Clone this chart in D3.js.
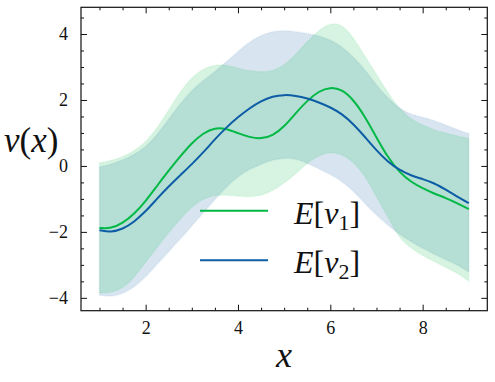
<!DOCTYPE html>
<html>
<head>
<meta charset="utf-8">
<script src="https://cdn.jsdelivr.net/npm/d3@7"></script>
<style>
  html, body { margin: 0; padding: 0; background: #fff; }
  svg { display: block; }
  svg text { font-family: "Liberation Serif", "DejaVu Serif", serif; }
</style>
</head>
<body>
<svg id="chart" width="495" height="382"></svg>
<script>
// ---- data ----
const xs = [1.00,1.25,1.50,1.75,2.00,2.25,2.50,2.75,3.00,3.25,3.50,3.75,4.00,4.25,4.50,4.75,5.00,
            5.25,5.50,5.75,6.00,6.25,6.50,6.75,7.00,7.25,7.50,7.75,8.00,8.25,8.50,8.75,9.00];

const meanNu1 = [-1.88,-1.90,-1.74,-1.46,-1.07,-0.60,-0.14,0.29,0.70,1.00,1.16,1.13,0.99,0.87,0.82,0.91,1.19,
                 1.60,1.98,2.27,2.39,2.32,2.01,1.50,0.86,0.25,-0.20,-0.49,-0.68,-0.84,-0.97,-1.13,-1.31];
const upperNu1 = [0.10,0.16,0.28,0.45,0.72,1.15,1.70,2.26,2.70,2.95,3.07,3.07,2.97,2.88,2.85,2.88,3.05,
                  3.38,3.78,4.12,4.34,4.30,3.90,3.33,2.78,2.22,1.72,1.42,1.24,1.09,1.00,0.91,0.83];
const lowerNu1 = [-3.86,-3.85,-3.72,-3.40,-2.92,-2.48,-2.02,-1.62,-1.24,-1.00,-0.89,-0.88,-0.92,-0.94,-0.91,-0.76,-0.53,
                  -0.24,0.08,0.32,0.42,0.36,0.12,-0.30,-0.95,-1.57,-2.22,-2.50,-2.72,-2.90,-3.08,-3.25,-3.50];

const meanNu2 = [-1.95,-2.01,-1.92,-1.70,-1.38,-0.99,-0.62,-0.28,0.05,0.41,0.81,1.17,1.48,1.75,1.97,2.11,2.16,
                 2.13,2.05,1.93,1.78,1.58,1.27,0.88,0.47,0.12,-0.13,-0.29,-0.40,-0.52,-0.72,-0.93,-1.13];
const upperNu2 = [-0.03,0.05,0.18,0.34,0.57,0.95,1.42,1.90,2.30,2.60,2.86,3.16,3.48,3.76,3.97,4.08,4.11,
                  4.07,4.02,3.95,3.84,3.62,3.30,2.93,2.45,2.05,1.74,1.56,1.48,1.38,1.24,1.10,0.98];
const lowerNu2 = [-3.92,-3.97,-3.88,-3.68,-3.38,-2.98,-2.60,-2.22,-1.82,-1.42,-1.02,-0.64,-0.32,-0.10,0.05,0.18,0.24,
                  0.22,0.08,-0.08,-0.26,-0.46,-0.76,-1.14,-1.50,-1.80,-2.08,-2.30,-2.50,-2.68,-2.85,-3.00,-3.22];

const xTickValues = [2, 4, 6, 8];
const yTickValues = [-4, -2, 0, 2, 4];
const seriesNames = ["1", "2"];
const colors = ["#00B945", "#0C5DA5"];

// ---- layout ----
const svg = d3.select("#chart");
const x = d3.scaleLinear().domain([0.6, 9.4]).range([81, 487.3]);
const y = d3.scaleLinear().domain([-4.39, 4.81]).range([310.7, 7.3]);
const X0 = 81, X1 = 487.3, Y0 = 7.3, Y1 = 310.7;

const curve = d3.curveBasis;
const area = (lo, hi) => d3.area().curve(curve)
  .x((d, i) => x(xs[i])).y0((d, i) => y(lo[i])).y1((d, i) => y(hi[i]));
const line = (m) => d3.line().curve(curve).x((d, i) => x(xs[i])).y((d, i) => y(m[i]));

const bands = [
  { lo: lowerNu2, hi: upperNu2, c: colors[1] },
  { lo: lowerNu1, hi: upperNu1, c: colors[0] }
];
bands.forEach(b => {
  svg.append("path").datum(xs).attr("d", area(b.lo, b.hi))
    .attr("fill", b.c).attr("fill-opacity", 0.16).attr("stroke", "none");
  svg.append("path").datum(xs).attr("d", area(b.lo, b.hi))
    .attr("fill", "none").attr("stroke", b.c).attr("stroke-opacity", 0.08)
    .attr("stroke-width", 2).attr("stroke-dasharray", "1 1");
});

[meanNu1, meanNu2].forEach((m, k) => {
  svg.append("path").datum(xs).attr("d", line(m))
    .attr("fill", "none").attr("stroke", colors[k]).attr("stroke-width", 2)
    .attr("stroke-linejoin", "round");
});

// ---- axes (ticks inward on all sides) ----
const fmt = d => (d < 0 ? "\u2212" + Math.abs(d) : "" + d);
const xMinor = d3.range(1, 9.01, 0.5).filter(v => !xTickValues.includes(v));
const yMinor = d3.range(-4, 4.51, 0.5).filter(v => !yTickValues.includes(v));

function styleAxis(g) {
  g.attr("font-family", null).attr("font-size", 18);
  g.select(".domain").remove();
  g.selectAll("line").attr("stroke", "#111").attr("stroke-width", 1);
  g.selectAll("text").attr("fill", "#111");
}
// bottom
svg.append("g").attr("transform", `translate(0,${Y1})`)
  .call(d3.axisBottom(x).tickValues(xTickValues).tickSize(-6).tickPadding(11).tickFormat(fmt))
  .call(styleAxis);
svg.append("g").attr("transform", `translate(0,${Y1})`)
  .call(d3.axisBottom(x).tickValues(xMinor).tickSize(-3).tickFormat(""))
  .call(styleAxis);
// top
svg.append("g").attr("transform", `translate(0,${Y0})`)
  .call(d3.axisTop(x).tickValues(xTickValues).tickSize(-6).tickFormat(""))
  .call(styleAxis);
svg.append("g").attr("transform", `translate(0,${Y0})`)
  .call(d3.axisTop(x).tickValues(xMinor).tickSize(-3).tickFormat(""))
  .call(styleAxis);
// left
svg.append("g").attr("transform", `translate(${X0},0)`)
  .call(d3.axisLeft(y).tickValues(yTickValues).tickSize(-6).tickPadding(13).tickFormat(fmt))
  .call(styleAxis);
svg.append("g").attr("transform", `translate(${X0},0)`)
  .call(d3.axisLeft(y).tickValues(yMinor).tickSize(-3).tickFormat(""))
  .call(styleAxis);
// right
svg.append("g").attr("transform", `translate(${X1},0)`)
  .call(d3.axisRight(y).tickValues(yTickValues).tickSize(-6).tickFormat(""))
  .call(styleAxis);
svg.append("g").attr("transform", `translate(${X1},0)`)
  .call(d3.axisRight(y).tickValues(yMinor).tickSize(-3).tickFormat(""))
  .call(styleAxis);

// frame
svg.append("rect").attr("x", X0).attr("y", Y0).attr("width", X1 - X0).attr("height", Y1 - Y0)
  .attr("fill", "none").attr("stroke", "#111").attr("stroke-width", 1.2);

// ---- axis labels ----
svg.append("text").attr("x", 284).attr("y", 367).attr("text-anchor", "middle")
  .attr("font-size", 36).attr("font-style", "italic").attr("fill", "#111").text("x");

const yl = svg.append("text").attr("x", 4).attr("y", 152)
  .attr("font-size", 35).attr("fill", "#111");
yl.append("tspan").attr("font-style", "italic").text("\u03BD");
yl.append("tspan").text("(");
yl.append("tspan").attr("font-style", "italic").text("x");
yl.append("tspan").text(")");

// ---- legend ----
seriesNames.forEach((s, k) => {
  const ly = 210.7 + k * 49.5;
  svg.append("line").attr("x1", 200).attr("x2", 268).attr("y1", ly).attr("y2", ly)
    .attr("stroke", colors[k]).attr("stroke-width", 2);
  const t = svg.append("text").attr("x", 294).attr("y", ly + 13)
    .attr("font-size", 32).attr("fill", "#111");
  t.append("tspan").attr("font-style", "italic").text("E");
  t.append("tspan").text("[");
  t.append("tspan").attr("font-style", "italic").text("\u03BD");
  t.append("tspan").attr("font-size", 22).attr("dy", 6).text(s);
  t.append("tspan").attr("dy", -6).text("]");
});
</script>
</body>
</html>
